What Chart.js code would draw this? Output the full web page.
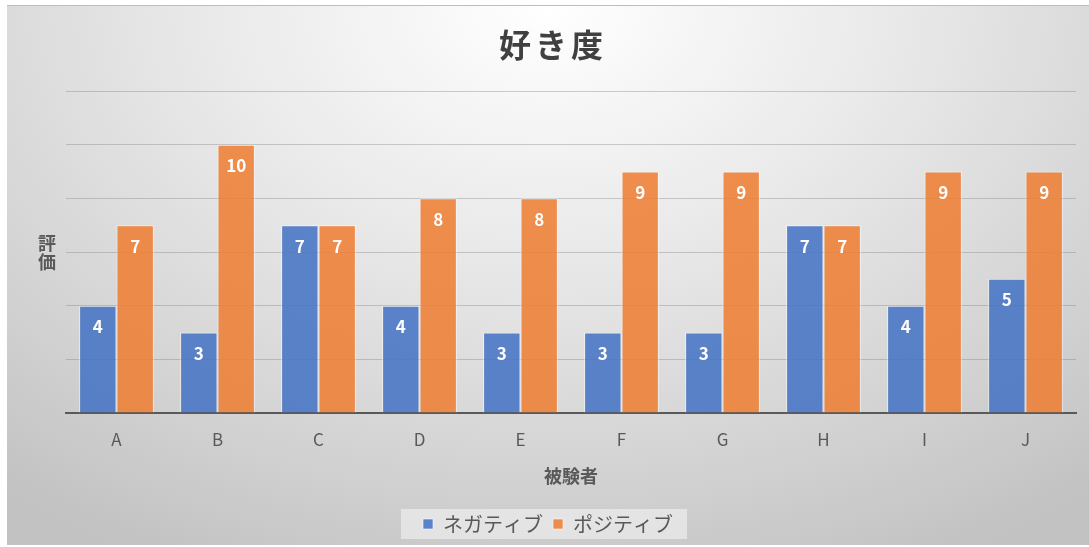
<!DOCTYPE html>
<html>
<head>
<meta charset="utf-8">
<script src="https://cdn.jsdelivr.net/npm/chart.js@4"></script>
<style>
    html, body { margin: 0; padding: 0; background: #fff; }
    #wrap {
        position: absolute; left: 7px; top: 5px; width: 1082px; height: 540px;
        border-top: 1px solid #bdbdbd; box-sizing: border-box;
        background: radial-gradient(ellipse 80% 115% at 50% 0%, #ffffff 0%, #e9e9e9 40%, #d3d3d3 75%, #c2c2c2 100%);
    }
</style>
</head>
<body>
<div id="wrap"><canvas id="chart" width="1082" height="539"></canvas></div>
<script>
const categorias = ['A', 'B', 'C', 'D', 'E', 'F', 'G', 'H', 'I', 'J'];
const negativa = [4, 3, 7, 4, 3, 3, 3, 7, 4, 5];
const positiva = [7, 10, 7, 8, 8, 9, 9, 7, 9, 9];
const ticksY = [0, 2, 4, 6, 8, 10, 12];

const fuente = '"Noto Sans CJK JP", "Noto Sans", sans-serif';
const gris = '#595959';

// etiquetas blancas dentro de cada barra
const etiquetasBarras = {
    id: 'etiquetasBarras',
    afterDatasetsDraw(chart) {
        const ctx = chart.ctx;
        ctx.save();
        ctx.fillStyle = '#ffffff';
        ctx.font = `bold 17px ${fuente}`;
        ctx.textAlign = 'center';
        ctx.textBaseline = 'middle';
        chart.data.datasets.forEach((ds, i) => {
            chart.getDatasetMeta(i).data.forEach((bar, j) => {
                ctx.fillText(String(ds.data[j]), bar.x, bar.y + 21);
            });
        });
        ctx.restore();
    }
};

// título principal y título del eje Y (vertical sin rotar)
const titulos = {
    id: 'titulos',
    afterDraw(chart) {
        const ctx = chart.ctx;
        ctx.save();
        ctx.textAlign = 'center';
        ctx.textBaseline = 'middle';

        ctx.fillStyle = '#404040';
        ctx.font = `bold 32px ${fuente}`;
        ctx.letterSpacing = '4px';
        ctx.fillText('好き度', 546, 39);
        ctx.letterSpacing = '0px';

        ctx.fillStyle = gris;
        ctx.font = `bold 18px ${fuente}`;
        const x = chart.chartArea.left - 19;
        const yMedio = chart.scales.y.getPixelForValue(6);
        ctx.fillText('評', x, yMedio - 9);
        ctx.fillText('価', x, yMedio + 10);
        ctx.restore();
    }
};

// fondo gris claro detrás de la leyenda
const fondoLeyenda = {
    id: 'fondoLeyenda',
    beforeDraw(chart) {
        const cajas = chart.legend && chart.legend.legendHitBoxes;
        if (!cajas || !cajas.length) return;
        const izq = cajas[0].left - 22;
        const ult = cajas[cajas.length - 1];
        const der = ult.left + ult.width + 14;
        const medio = cajas[0].top + cajas[0].height / 2;
        const ctx = chart.ctx;
        ctx.save();
        ctx.fillStyle = 'rgba(235,235,235,0.75)';
        ctx.fillRect(izq, medio - 15, der - izq, 30);
        ctx.restore();
    }
};

new Chart(document.getElementById('chart'), {
    type: 'bar',
    data: {
        labels: categorias,
        datasets: [
            {
                label: 'ネガティブ',
                data: negativa,
                backgroundColor: 'rgba(68,114,196,0.86)',
                borderColor: 'rgba(255,255,255,0.55)',
                borderWidth: 1,
                categoryPercentage: 0.74,
                barPercentage: 1.0
            },
            {
                label: 'ポジティブ',
                data: positiva,
                backgroundColor: 'rgba(237,125,49,0.86)',
                borderColor: 'rgba(255,255,255,0.55)',
                borderWidth: 1,
                categoryPercentage: 0.74,
                barPercentage: 1.0
            }
        ]
    },
    options: {
        responsive: false,
        animation: false,
        layout: { padding: { left: 13, right: 13, top: 85, bottom: 1 } },
        plugins: {
            title: { display: false },
            legend: {
                position: 'bottom',
                labels: {
                    color: gris,
                    font: { family: fuente, size: 20 },
                    boxWidth: 10,
                    boxHeight: 10,
                    padding: 10
                }
            },
            tooltip: { enabled: false }
        },
        scales: {
            x: {
                grid: { display: false, drawTicks: false },
                border: { display: true, color: gris, width: 2 },
                ticks: { color: gris, font: { family: fuente, size: 17 }, padding: 16 },
                title: {
                    display: true,
                    text: '被験者',
                    color: gris,
                    font: { family: fuente, size: 18, weight: 'bold' },
                    padding: { top: 0, bottom: 17 }
                }
            },
            y: {
                min: 0,
                max: 12,
                afterBuildTicks: axis => { axis.ticks = ticksY.map(v => ({ value: v })); },
                afterFit: axis => { axis.width = 46; },
                grid: { color: 'rgba(120,120,120,0.35)', drawTicks: false },
                border: { display: false },
                ticks: { display: false }
            }
        }
    },
    plugins: [etiquetasBarras, titulos, fondoLeyenda]
});
</script>
</body>
</html>
